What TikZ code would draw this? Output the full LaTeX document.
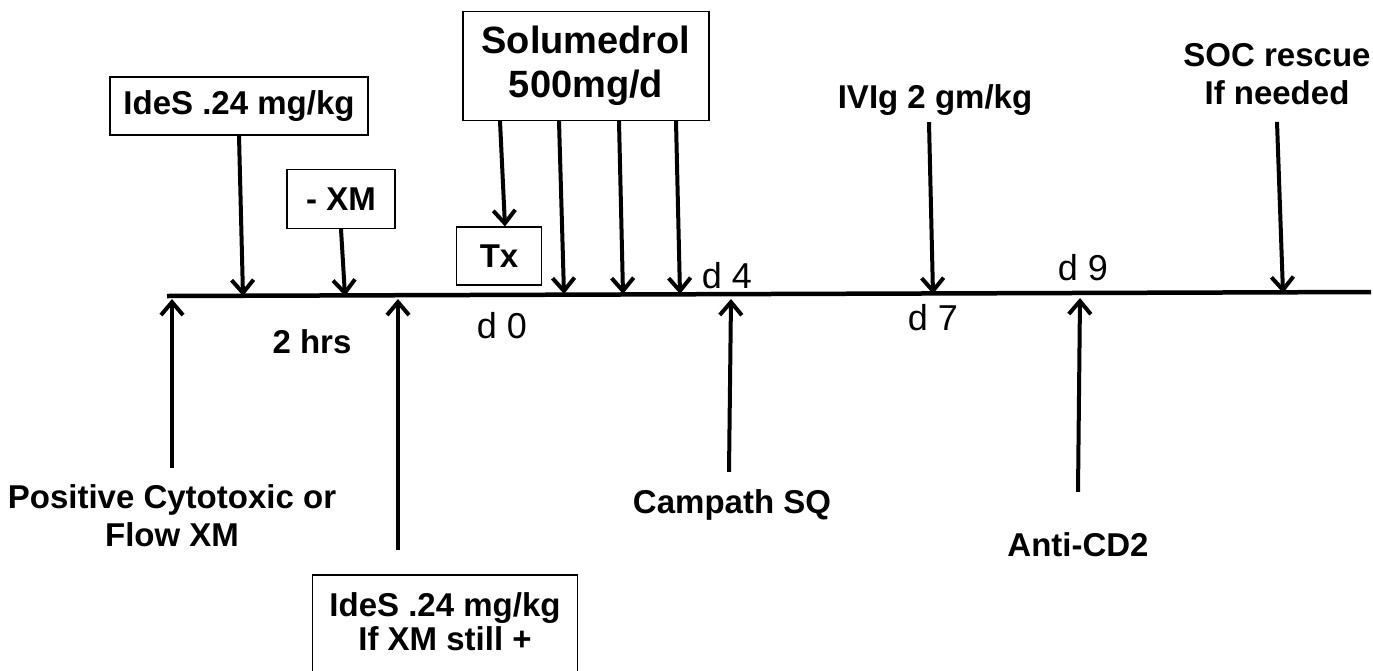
\documentclass[tikz,border=0pt]{standalone}
\usepackage{fontspec}
\setmainfont{Liberation Sans}
\usetikzlibrary{arrows.meta}
\begin{document}
\begin{tikzpicture}[x=1pt,y=-1pt,
  lbl/.style={font=\fontsize{33}{38}\selectfont\bfseries, align=center, inner sep=0pt},
  daylbl/.style={font=\fontsize{36}{40}\selectfont, inner sep=0pt, anchor=base},
  dosebox/.style={draw, line width=1.2pt, font=\fontsize{33}{38}\selectfont\bfseries, align=center},
  dosearrow/.style={line width=4pt, -{Straight Barb[length=13pt,width=22pt]}}]
  \clip (0,0) rectangle (1373,670);
  \draw[line width=4.5pt] (167,296) coordinate (tlstart) -- (1371,292) coordinate (tlend);
  \node[dosebox, minimum width=258pt, minimum height=58pt] (ides) at (239,106) {IdeS .24 mg/kg};
  \node[dosebox, minimum width=108pt, minimum height=59pt] (negxm) at (341,199) {- XM};
  \node[dosebox, minimum width=85pt, minimum height=58pt] (tx) at (499,256) {Tx};
  \node[dosebox, font=\fontsize{38}{44}\selectfont\bfseries, minimum width=246pt, minimum height=109pt] (solu) at (586,66) {Solumedrol\\500mg/d};
  \node[lbl, font=\fontsize{33}{34}\selectfont\bfseries, minimum width=265pt, inner ysep=17pt, anchor=north] (ides2) at (445,575) {IdeS .24 mg/kg\\If XM still +};
  \draw[line width=1.2pt] ([yshift=-30pt]ides2.south west) -- (ides2.north west) -- (ides2.north east) -- ([yshift=-30pt]ides2.south east);
  \node[lbl, anchor=base] (ivig) at (935,108) {IVIg 2 gm/kg};
  \node[lbl] (soc) at (1277,74) {SOC rescue\\If needed};
  \node[lbl, anchor=base] (hrs) at (312,353) {2 hrs};
  \node[lbl] (posxm) at (172,516) {Positive Cytotoxic or\\Flow XM};
  \node[lbl, anchor=base] (campath) at (732,513) {Campath SQ};
  \node[lbl, anchor=base] (anticd) at (1078,556) {Anti-CD2};
  \node[daylbl] (d0) at (502,338) {d 0};
  \node[daylbl] (d4) at (727,288) {d 4};
  \node[daylbl] (d7) at (933,330) {d 7};
  \node[daylbl] (d9) at (1083,280) {d 9};
  \coordinate (ondose1) at (243,296);
  \coordinate (onxm) at (345,296);
  \coordinate (onsolu1) at (564,294);
  \coordinate (onsolu2) at (623,294);
  \coordinate (onsolu3) at (680,294);
  \coordinate (onivig) at (933,294);
  \coordinate (onsoc) at (1283,293);
  \coordinate (underpos) at (172,299);
  \coordinate (underdose2) at (398,299);
  \coordinate (undercampath) at (731,299);
  \coordinate (underanti) at (1080,298);
  \draw[dosearrow] (ides.south) -- (ondose1);
  \draw[dosearrow] (negxm.south) -- (onxm);
  \draw[dosearrow] ([xshift=-86pt]solu.south) -- ([xshift=6pt]tx.north);
  \draw[dosearrow] ([xshift=-27pt]solu.south) -- (onsolu1);
  \draw[dosearrow] ([xshift=33pt]solu.south) -- (onsolu2);
  \draw[dosearrow] ([xshift=90pt]solu.south) -- (onsolu3);
  \draw[dosearrow] ([xshift=-6pt,yshift=-7pt]ivig.south) -- (onivig);
  \draw[dosearrow] ([yshift=-17pt]soc.south) -- (onsoc);
  \draw[dosearrow] ([yshift=17pt]posxm.north) -- (underpos);
  \draw[dosearrow] ([xshift=-47pt,yshift=25pt]ides2.north) -- (underdose2);
  \draw[dosearrow] ([xshift=-3pt,yshift=17pt]campath.north) -- (undercampath);
  \draw[dosearrow] ([yshift=40pt]anticd.north) -- (underanti);
\end{tikzpicture}
\end{document}
